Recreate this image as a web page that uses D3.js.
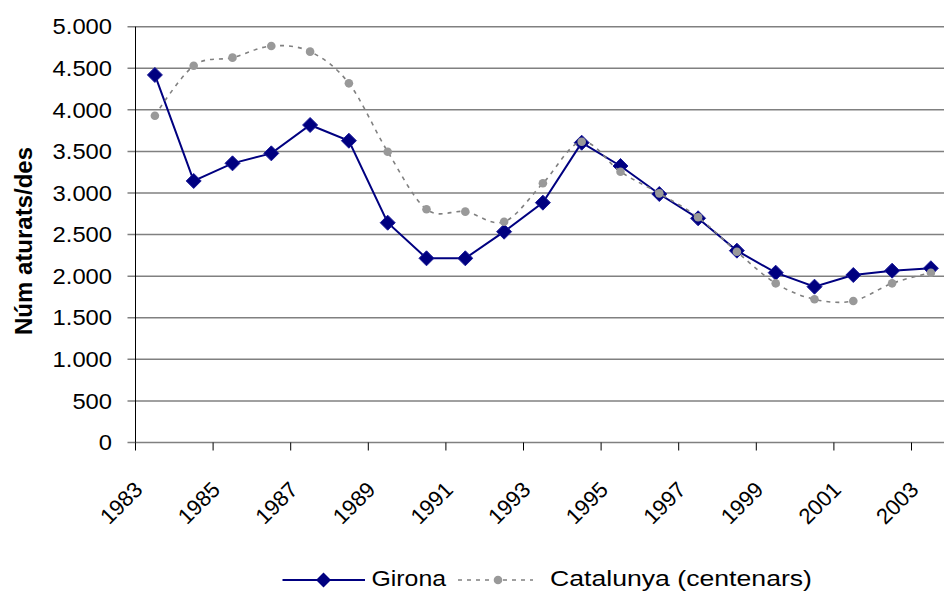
<!DOCTYPE html>
<html>
<head>
<meta charset="utf-8">
<script src="https://cdn.jsdelivr.net/npm/d3@7"></script>
<style>
body { margin: 0; background: #fff; }
text { font-family: "Liberation Sans", Arial, sans-serif; fill: #000; }
</style>
</head>
<body>
<svg id="chart" width="944" height="591"></svg>
<script>
// data
var years = [1983, 1984, 1985, 1986, 1987, 1988, 1989, 1990, 1991, 1992, 1993,
             1994, 1995, 1996, 1997, 1998, 1999, 2000, 2001, 2002, 2003];
var girona = [4420, 3145, 3357, 3477, 3818, 3629, 2643, 2215, 2215, 2535, 2884,
              3605, 3325, 2988, 2696, 2307, 2042, 1874, 2014, 2066, 2095];
var catalunya = [3930, 4531, 4628, 4768, 4700, 4319, 3497, 2804, 2776, 2655, 3117,
                 3617, 3256, 2996, 2708, 2294, 1914, 1722, 1702, 1914, 2042];
var yTicks = [0, 500, 1000, 1500, 2000, 2500, 3000, 3500, 4000, 4500, 5000];
var yearLabels = [1983, 1985, 1987, 1989, 1991, 1993, 1995, 1997, 1999, 2001, 2003];
var seriesNames = ["Girona", "Catalunya (centenars)"];

var svg = d3.select("#chart");

var x = d3.scaleBand().domain(years).range([135.5, 950.3]),
    bw = x.bandwidth(),
    y = d3.scaleLinear().domain([0, 5000]).range([442.5, 26.7]),
    cx = function(d) { return x(d) + bw / 2; };

var fmt = d3.formatLocale({ decimal: ",", thousands: ".", grouping: [3], currency: ["", ""] }).format(",d");

// gridlines + y ticks
svg.append("g").selectAll("line")
    .data(yTicks)
  .enter().append("line")
    .attr("x1", 127.5).attr("x2", 944)
    .attr("y1", function(d) { return y(d); })
    .attr("y2", function(d) { return y(d); })
    .attr("stroke", "#808080").attr("stroke-width", 1.5);

svg.append("g").selectAll("text")
    .data(yTicks)
  .enter().append("text")
    .attr("transform", function(d) { return "translate(112," + (y(d) + 7.7) + ") scale(1.08,1)"; })
    .attr("text-anchor", "end")
    .style("font-size", "22px")
    .text(function(d) { return fmt(d); });

// y axis line
svg.append("line")
    .attr("x1", 135.5).attr("x2", 135.5)
    .attr("y1", y(5000)).attr("y2", y(0))
    .attr("stroke", "#000").attr("stroke-width", 1);

// x ticks at every other category boundary
var tickIdx = yearLabels.map(function(d) { return years.indexOf(d); });
svg.append("g").selectAll("line")
    .data(tickIdx)
  .enter().append("line")
    .attr("x1", function(i) { return x(years[i]); })
    .attr("x2", function(i) { return x(years[i]); })
    .attr("y1", y(0)).attr("y2", y(0) + 8)
    .attr("stroke", "#000");

svg.append("g").selectAll("text")
    .data(yearLabels)
  .enter().append("text")
    .attr("transform", function(d) { return "translate(" + (cx(d) - 11) + ",491) rotate(-45)"; })
    .attr("text-anchor", "end")
    .style("font-size", "22px")
    .text(function(d) { return d; });

// axis title
svg.append("text")
    .attr("transform", "translate(32,241) rotate(-90)")
    .attr("text-anchor", "middle")
    .style("font-size", "24px")
    .style("font-weight", "bold")
    .text("Núm aturats/des");

var diamond = "M0,-7.5L7.5,0L0,7.5L-7.5,0Z";

// Girona
var lineG = d3.line()
    .x(function(d, i) { return cx(years[i]); })
    .y(function(d) { return y(d); });

svg.append("path")
    .datum(girona)
    .attr("d", lineG)
    .attr("fill", "none")
    .attr("stroke", "#000080")
    .attr("stroke-width", 2);

svg.append("g").selectAll("path")
    .data(girona)
  .enter().append("path")
    .attr("d", diamond)
    .attr("transform", function(d, i) { return "translate(" + cx(years[i]) + "," + y(d) + ")"; })
    .attr("fill", "#000080")
    .attr("stroke", "#1a1a99")
    .attr("stroke-width", 1);

// Catalunya (smoothed, dashed)
var lineC = d3.line()
    .curve(d3.curveCardinal.tension(0))
    .x(function(d, i) { return cx(years[i]); })
    .y(function(d) { return y(d); });

svg.append("path")
    .datum(catalunya)
    .attr("d", lineC)
    .attr("fill", "none")
    .attr("stroke", "#808080")
    .attr("stroke-width", 1.6)
    .attr("stroke-dasharray", "4,5");

svg.append("g").selectAll("circle")
    .data(catalunya)
  .enter().append("circle")
    .attr("cx", function(d, i) { return cx(years[i]); })
    .attr("cy", function(d) { return y(d); })
    .attr("r", 4.3)
    .attr("fill", "#999");

// legend
var lg = svg.append("g");
lg.append("line")
    .attr("x1", 282.5).attr("x2", 365).attr("y1", 580).attr("y2", 580)
    .attr("stroke", "#000080").attr("stroke-width", 2);
lg.append("path")
    .attr("d", diamond)
    .attr("transform", "translate(323.5,580)")
    .attr("fill", "#000080");
lg.append("text")
    .attr("x", 371.5).attr("y", 585.5)
    .attr("textLength", 74.5)
    .attr("lengthAdjust", "spacingAndGlyphs")
    .style("font-size", "22px")
    .text(seriesNames[0]);

lg.append("line")
    .attr("x1", 458).attr("x2", 533).attr("y1", 580).attr("y2", 580)
    .attr("stroke", "#808080").attr("stroke-width", 1.6)
    .attr("stroke-dasharray", "4,5");
lg.append("circle")
    .attr("cx", 498).attr("cy", 580).attr("r", 4.3)
    .attr("fill", "#999");
lg.append("text")
    .attr("x", 550).attr("y", 585.5)
    .attr("textLength", 262)
    .attr("lengthAdjust", "spacingAndGlyphs")
    .style("font-size", "22px")
    .text(seriesNames[1]);
</script>
</body>
</html>
